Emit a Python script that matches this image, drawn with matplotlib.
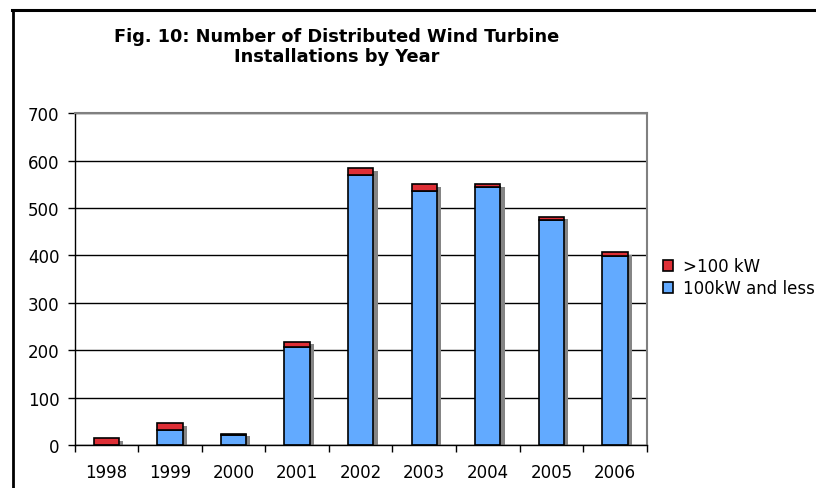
import matplotlib.pyplot as plt
import numpy as np
from matplotlib.lines import Line2D
from matplotlib.transforms import ScaledTranslation

# Installations per year, split by turbine size
years = ['1998', '1999', '2000', '2001', '2002', '2003', '2004', '2005', '2006']
small = [0, 32, 20, 206, 569, 535, 544, 474, 399]   # 100kW and less
large = [15, 14, 4, 12, 15, 15, 6, 8, 8]            # >100 kW
totals = [s + l for s, l in zip(small, large)]

blue = '#62AAFF'
red = '#DE2F36'

fig = plt.figure(figsize=(8.16, 4.89), dpi=100)
ax = fig.add_axes([0.0915, 0.088, 0.701, 0.6783])

x = np.arange(len(years))
w = 0.4

# drop shadow behind each stack
shift = ax.transData + ScaledTranslation(3 / 72, -2 / 72, fig.dpi_scale_trans)
ax.bar(x, totals, w, color='#858585', linewidth=0, transform=shift, zorder=1)

b1 = ax.bar(x, small, w, color=blue, edgecolor='black', linewidth=1.2, zorder=2)
b2 = ax.bar(x, large, w, bottom=small, color=red, edgecolor='black',
            linewidth=1.2, zorder=2)

ax.set_xlim(-0.5, len(years) - 0.5)
ax.set_ylim(0, 700)
ax.set_yticks(range(0, 701, 100))
ax.yaxis.grid(True, color='black', linewidth=1)
ax.set_axisbelow(True)

# category ticks sit between the bars
ax.set_xticks(x)
ax.set_xticklabels(years)
ax.set_xticks(np.arange(-0.5, len(years)), minor=True)
ax.tick_params(axis='x', which='major', length=0, pad=13, labelsize=12)
ax.tick_params(axis='x', which='minor', length=5, width=1, direction='out')
ax.tick_params(axis='y', length=5, width=1, pad=6, labelsize=12)

for side in ['top', 'right']:
    ax.spines[side].set_color('#808080')
    ax.spines[side].set_linewidth(1.5)
for side in ['left', 'bottom']:
    ax.spines[side].set_color('black')
    ax.spines[side].set_linewidth(1)

fig.legend([b2, b1], ['>100 kW', '100kW and less'], loc='upper left',
           bbox_to_anchor=(0.8125, 0.472), frameon=False, fontsize=12,
           handlelength=0.6, handleheight=0.6, handletextpad=0.6,
           labelspacing=0.25, borderaxespad=0, borderpad=0)

fig.text(0.413, 1 - 41.7 / 489, 'Fig. 10: Number of Distributed Wind Turbine',
         ha='center', va='baseline', fontsize=12.8, fontweight='bold')
fig.text(0.413, 1 - 61.7 / 489, 'Installations by Year',
         ha='center', va='baseline', fontsize=12.8, fontweight='bold')

# frame around the figure (left and top edges)
fig.add_artist(Line2D([12.8 / 816, 12.8 / 816], [0, 1 - 11 / 489], color='black',
                      linewidth=2, transform=fig.transFigure))
fig.add_artist(Line2D([11.8 / 816, 1], [1 - 11 / 489, 1 - 11 / 489], color='black',
                      linewidth=2.2, transform=fig.transFigure))

fig.savefig('out.png', dpi=100)
